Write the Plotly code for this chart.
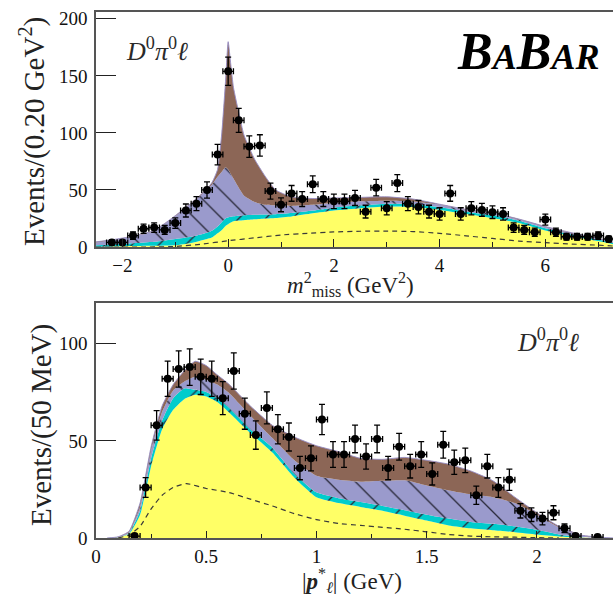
import plotly.graph_objects as go

# ---------------- m_miss^2 distribution, 0.20 GeV^2 bins ----------------
mm2_centers = [-2.2, -2.0, -1.8, -1.6, -1.4, -1.2, -1.0, -0.8, -0.6, -0.4, -0.2, 0.0,
               0.2, 0.4, 0.6, 0.8, 1.0, 1.2, 1.4, 1.6, 1.8, 2.0, 2.2, 2.4, 2.6, 2.8,
               3.0, 3.2, 3.4, 3.6, 3.8, 4.0, 4.2, 4.4, 4.6, 4.8, 5.0, 5.2, 5.4, 5.6,
               5.8, 6.0, 6.2, 6.4, 6.6, 6.8, 7.0, 7.2, 7.4]
mm2_counts = [4, 4, 10, 16, 17, 15, 21, 32, 38, 50, 81, 154,
              111, 88, 89, 49, 37, 47, 42, 55, 42, 40, 40, 43, 31, 52,
              34, 56, 38, 35, 31, 29, 47, 29, 34, 32.5, 30.5, 29, 17, 15,
              13, 24, 13, 9, 9, 9, 10, 7, 3]
mm2_errors = [2.0, 2.0, 3.2, 4.0, 4.1, 3.9, 4.6, 5.7, 6.2, 7.1, 9.0, 12.4,
              10.5, 9.4, 9.4, 7.0, 6.1, 6.9, 6.5, 7.4, 6.5, 6.3, 6.3, 6.6, 5.6, 7.2,
              5.8, 7.5, 6.2, 5.9, 5.6, 5.4, 6.9, 5.4, 5.8, 5.7, 5.5, 5.4, 4.1, 3.9,
              3.6, 4.9, 3.6, 3.0, 3.0, 3.0, 3.2, 2.6, 1.7]

# fit components, given as cumulative stack heights
mm2_grid = [-2.5, -2.2, -1.8, -1.4, -1.0, -0.7, -0.4, -0.3, -0.2, -0.12, -0.05, 0.0,
            0.05, 0.1, 0.2, 0.3, 0.5, 0.7, 0.9, 1.2, 1.6, 2.0, 2.5, 3.0, 3.5, 4.0,
            4.5, 5.0, 5.5, 6.0, 6.5, 7.0, 7.3]
mm2_yellow = [0.3, 0.5, 0.8, 1.0, 1.5, 3.5, 7.0, 8.5, 12.0, 15.0, 18.5, 20.0,
              21.5, 22.5, 23.2, 23.5, 24.3, 25.0, 25.5, 26.8, 29.5, 32.0, 34.0, 35.5, 35.0, 32.5,
              29.0, 25.5, 21.0, 14.5, 9.5, 5.2, 2.3]
mm2_cyan = [1.5, 2.2, 3.2, 4.5, 7.0, 9.0, 12.5, 14.5, 18.0, 22.0, 25.0, 26.0,
            26.5, 27.0, 27.5, 27.8, 28.3, 28.5, 28.8, 29.8, 32.0, 34.5, 36.5, 38.0, 37.5, 35.0,
            31.0, 28.0, 23.0, 16.5, 11.0, 6.5, 3.2]
mm2_lavender = [4.0, 6.0, 9.0, 14.0, 27.0, 38.0, 50.0, 55.0, 61.5, 66.0, 70.0, 68.0,
                64.0, 60.0, 52.0, 45.0, 39.5, 37.0, 36.5, 36.0, 37.0, 38.5, 40.0, 40.5, 39.8, 37.0,
                32.5, 29.5, 24.0, 17.5, 12.0, 7.2, 3.8]
mm2_brown = [4.5, 6.3, 9.5, 14.5, 27.5, 38.5, 51.0, 57.0, 68.0, 100.0, 145.0, 180.0,
             160.0, 140.0, 118.0, 98.0, 77.0, 62.0, 50.0, 44.0, 42.5, 43.0, 43.5, 44.0, 42.0, 37.5,
             33.0, 30.0, 24.5, 18.0, 12.5, 7.5, 4.0]

mm2_dash_x = [-2.5, -1.5, -1.0, -0.5, 0.0, 0.5, 1.0, 1.5, 2.0, 2.5, 3.0, 3.5, 4.0,
              4.5, 5.0, 5.5, 6.0, 6.5, 7.0, 7.3]
mm2_dash_y = [0.0, 0.0, 0.5, 2.5, 5.5, 8.0, 10.5, 12.0, 13.2, 13.8, 14.0, 13.5, 12.0,
              9.8, 7.5, 5.2, 3.8, 2.6, 1.6, 0.8]

# ---------------- lepton momentum distribution, 50 MeV bins ----------------
p_centers = [0.175, 0.225, 0.275, 0.325, 0.375, 0.425, 0.475, 0.525, 0.575, 0.625,
             0.675, 0.725, 0.775, 0.825, 0.875, 0.925, 0.975, 1.025, 1.075, 1.125,
             1.175, 1.225, 1.275, 1.325, 1.375, 1.425, 1.475, 1.525, 1.575, 1.625,
             1.675, 1.725, 1.775, 1.825, 1.875, 1.925, 1.975, 2.025, 2.075, 2.125,
             2.175, 2.275]
p_counts = [1, 26, 58, 82, 87, 88, 83, 82, 72, 86,
            64, 53, 67, 56, 52, 36, 41, 61, 43, 43,
            51, 42, 51, 36, 47, 37, 43, 33, 48, 39,
            40, 22, 37, 26, 30, 14, 12, 10, 13, 5,
            1, 0.5]
p_errors = [1.0, 5.1, 7.6, 9.1, 9.3, 9.4, 9.1, 9.1, 8.5, 9.3,
            8.0, 7.3, 8.2, 7.5, 7.2, 6.0, 6.4, 7.8, 6.6, 6.6,
            7.1, 6.5, 7.1, 6.0, 6.9, 6.1, 6.6, 5.7, 6.9, 6.2,
            6.3, 4.7, 6.1, 5.1, 5.5, 3.7, 3.5, 3.2, 3.6, 2.2,
            1.0, 0.7]

p_grid = [0.05, 0.1, 0.15, 0.2, 0.25, 0.3, 0.35, 0.4, 0.45, 0.5, 0.55, 0.6, 0.7,
          0.8, 0.9, 1.0, 1.1, 1.2, 1.3, 1.4, 1.5, 1.6, 1.7, 1.8, 1.9, 2.0, 2.1,
          2.2, 2.3, 2.35]
p_yellow = [0.0, 0.3, 2.0, 12.0, 37.0, 56.0, 66.0, 71.5, 73.7, 72.8, 70.0, 65.0, 54.0,
            44.0, 31.0, 21.0, 18.0, 16.0, 14.0, 11.5, 9.0, 6.5, 5.0, 4.0, 3.0, 1.8, 0.8,
            0.2, 0.0, 0.0]
p_cyan = [0.0, 0.4, 2.5, 14.0, 41.0, 60.5, 72.0, 77.0, 76.3, 75.2, 72.0, 67.5, 56.0,
          46.5, 33.0, 23.5, 20.5, 18.5, 16.5, 14.3, 12.0, 10.0, 8.3, 7.3, 6.0, 4.2, 1.8,
          0.4, 0.0, 0.0]
p_lavender = [0.0, 0.5, 3.0, 16.0, 45.0, 65.0, 76.0, 80.5, 83.0, 81.5, 79.0, 75.0, 63.0,
              51.5, 40.0, 32.0, 30.0, 29.0, 29.5, 29.7, 27.0, 24.5, 22.5, 21.0, 18.0, 12.0, 5.5,
              1.3, 0.3, 0.0]
p_brown = [0.0, 0.6, 3.5, 18.0, 47.0, 68.0, 79.0, 86.0, 91.0, 88.8, 84.0, 79.5, 68.0,
           58.0, 52.0, 47.5, 44.5, 41.0, 40.5, 41.5, 40.0, 38.0, 34.5, 29.5, 21.0, 13.0, 6.0,
           1.5, 0.3, 0.0]

p_dash_x = [0.1, 0.15, 0.2, 0.25, 0.3, 0.35, 0.41, 0.5, 0.6, 0.7, 0.8, 0.9, 1.0,
            1.1, 1.2, 1.3, 1.4, 1.5, 1.6, 1.7, 1.8, 1.9, 2.0, 2.1]
p_dash_y = [0.0, 1.5, 6.0, 15.0, 22.0, 26.0, 28.0, 25.5, 23.5, 20.0, 16.5, 12.5, 9.5,
            7.5, 6.5, 5.5, 4.5, 3.2, 1.8, 1.0, 0.6, 0.4, 0.2, 0.0]

# ---------------- styling ----------------
YELLOW = "#ffff66"
CYAN = "#00cccc"
LAVENDER = "#9a9acc"
BROWN = "#8c6656"
SERIF = "Liberation Serif, Times New Roman, serif"

W, H = 613, 595
ML, MR, MT, MB = 96, 0, 12, 57


def paper_x(px):
    return (px - ML) / (W - ML - MR)


def paper_y(py):
    return (H - MB - py) / (H - MT - MB)


fig = go.Figure()


def add_stack(x, layers, xa, ya):
    base = None
    for top, color, pattern in layers:
        kw = dict(x=x, y=top, mode="lines", xaxis=xa, yaxis=ya,
                  line=dict(width=0, shape="spline", smoothing=0.5, color=color),
                  fillcolor=color, showlegend=False, hoverinfo="skip")
        kw["fill"] = "tozeroy" if base is None else "tonexty"
        if pattern:
            kw["fillpattern"] = dict(shape=pattern, bgcolor=color, fgcolor="#2a2a3a",
                                     size=19, solidity=0.07, fillmode="replace")
        fig.add_trace(go.Scatter(**kw))
        base = top
    # thin outline on the total
    fig.add_trace(go.Scatter(x=x, y=layers[-1][0], mode="lines", xaxis=xa, yaxis=ya,
                             line=dict(width=1, color="rgba(150,140,195,0.9)",
                                       shape="spline", smoothing=0.5),
                             showlegend=False, hoverinfo="skip"))


add_stack(mm2_grid, [(mm2_yellow, YELLOW, None), (mm2_cyan, CYAN, "/"),
                     (mm2_lavender, LAVENDER, "\\"), (mm2_brown, BROWN, None)], "x", "y")
add_stack(p_grid, [(p_yellow, YELLOW, None), (p_cyan, CYAN, "/"),
                   (p_lavender, LAVENDER, "\\"), (p_brown, BROWN, None)], "x2", "y2")

for dx, dy, xa, ya in [(mm2_dash_x, mm2_dash_y, "x", "y"), (p_dash_x, p_dash_y, "x2", "y2")]:
    fig.add_trace(go.Scatter(x=dx, y=dy, mode="lines", xaxis=xa, yaxis=ya,
                             line=dict(color="#3a3a3a", width=1.2, dash="5px,4px",
                                       shape="spline", smoothing=0.5),
                             showlegend=False, hoverinfo="skip"))

for cx, cy, ey, hw, xa, ya in [(mm2_centers, mm2_counts, mm2_errors, 0.1, "x", "y"),
                               (p_centers, p_counts, p_errors, 0.025, "x2", "y2")]:
    fig.add_trace(go.Scatter(
        x=cx, y=cy, mode="markers", xaxis=xa, yaxis=ya,
        marker=dict(color="black", size=8),
        error_y=dict(type="data", array=ey, color="black", thickness=1.3, width=3),
        error_x=dict(type="constant", value=hw, color="black", thickness=1.3, width=3),
        showlegend=False, hoverinfo="skip"))

axis_common = dict(showgrid=False, zeroline=False, showline=True, linecolor="#555",
                   linewidth=1.5, ticks="inside", tickcolor="#222", tickwidth=1.2,
                   tickfont=dict(family=SERIF, size=19, color="#111"))

top_dom = [paper_y(247), 1.0]
bot_dom = [0.0, paper_y(303)]

fig.update_layout(
    width=W, height=H,
    margin=dict(l=ML, r=MR, t=MT, b=MB),
    paper_bgcolor="white", plot_bgcolor="white",
    xaxis=dict(domain=[0, 1], anchor="y", range=[-2.5, 7.28], tick0=0, dtick=2,
               ticklen=8, mirror=True,
               minor=dict(dtick=1, ticks="inside", ticklen=5, tickcolor="#222"),
               **axis_common),
    yaxis=dict(domain=top_dom, anchor="x", range=[0, 206], tickvals=[0, 50, 100, 150, 200],
               ticklen=20, ticklabelstandoff=3, **axis_common),
    xaxis2=dict(domain=[0, 1], anchor="y2", range=[0, 2.345], tickvals=[0, 0.5, 1, 1.5, 2],
                ticktext=["0", "0.5", "1", "1.5", "2"], ticklen=7, mirror=True,
                minor=dict(dtick=0.25, ticks="inside", ticklen=4, tickcolor="#222"),
                **axis_common),
    yaxis2=dict(domain=bot_dom, anchor="x2", range=[0, 121], tickvals=[0, 50, 100],
                ticklen=20, ticklabelstandoff=3, **axis_common),
)

ann = []
label_font = dict(family=SERIF, size=26, color="#2a2a2a")
ann.append(dict(x=paper_x(157), y=paper_y(50), xref="paper", yref="paper",
                text="<i>D</i><sup>0</sup><i>π</i><sup>0</sup><i>ℓ</i>",
                showarrow=False, font=label_font, xanchor="center", yanchor="middle"))
ann.append(dict(x=paper_x(548), y=paper_y(340), xref="paper", yref="paper",
                text="<i>D</i><sup>0</sup><i>π</i><sup>0</sup><i>ℓ</i>",
                showarrow=False, font=label_font, xanchor="center", yanchor="middle"))
ann.append(dict(x=paper_x(528), y=paper_y(52), xref="paper", yref="paper",
                text=("<b><i><span style='font-size:52px'>B</span>"
                      "<span style='font-size:36px'>A</span>"
                      "<span style='font-size:52px'>B</span>"
                      "<span style='font-size:36px'>AR</span></i></b>"),
                showarrow=False, font=dict(family=SERIF, size=52, color="black"),
                xanchor="center", yanchor="middle"))
title_font = dict(family=SERIF, size=29, color="#222")
ann.append(dict(x=paper_x(33), y=paper_y(132), xref="paper", yref="paper",
                text="Events/(0.20 GeV<sup>2</sup>)", textangle=-90, showarrow=False,
                font=title_font, xanchor="center", yanchor="middle"))
ann.append(dict(x=paper_x(41), y=paper_y(425), xref="paper", yref="paper",
                text="Events/(50 MeV)", textangle=-90, showarrow=False,
                font=title_font, xanchor="center", yanchor="middle"))
xt_font = dict(family=SERIF, size=23, color="#222")
ann.append(dict(x=paper_x(350), y=paper_y(284), xref="paper", yref="paper",
                text="<i>m</i><sup>2</sup><sub>miss</sub> (GeV<sup>2</sup>)", showarrow=False,
                font=xt_font, xanchor="center", yanchor="middle"))
ann.append(dict(x=paper_x(352), y=paper_y(580), xref="paper", yref="paper",
                text="|<b><i>p</i></b><sup>*</sup><sub><i>ℓ</i></sub>| (GeV)", showarrow=False,
                font=xt_font, xanchor="center", yanchor="middle"))
fig.update_layout(annotations=ann)

fig.write_html("out.html")
